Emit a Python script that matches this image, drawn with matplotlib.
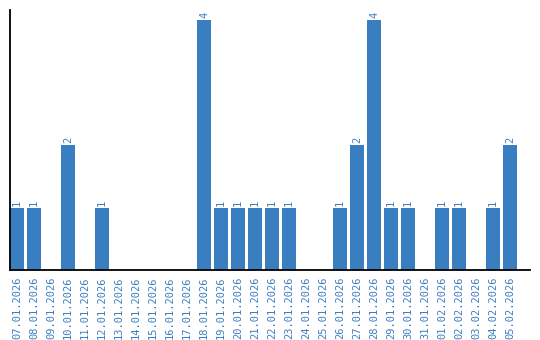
import matplotlib
matplotlib.use("Agg")
import matplotlib.pyplot as plt

dates = ['07.01.2026', '08.01.2026', '09.01.2026', '10.01.2026', '11.01.2026',
         '12.01.2026', '13.01.2026', '14.01.2026', '15.01.2026', '16.01.2026',
         '17.01.2026', '18.01.2026', '19.01.2026', '20.01.2026', '21.01.2026',
         '22.01.2026', '23.01.2026', '24.01.2026', '25.01.2026', '26.01.2026',
         '27.01.2026', '28.01.2026', '29.01.2026', '30.01.2026', '31.01.2026',
         '01.02.2026', '02.02.2026', '03.02.2026', '04.02.2026', '05.02.2026']
counts = [1, 1, 0, 2, 0, 1, 0, 0, 0, 0, 0, 4, 1, 1, 1, 1, 1, 0, 0, 1,
          2, 4, 1, 1, 0, 1, 1, 0, 1, 2]

blue = '#3a7ec2'

fig = plt.figure(figsize=(5.4, 3.4), dpi=100)
ax = fig.add_axes([10 / 540, 70 / 340, 520 / 540, 260 / 340])

x = list(range(len(dates)))
ax.bar(x, counts, width=0.82, color=blue)

# value labels above non-empty bars
for xi, c in zip(x, counts):
    if c > 0:
        ax.text(xi, c + 0.03, str(c), rotation=90, ha='center', va='bottom',
                color=blue, fontsize=7.5, family='DejaVu Sans Mono')

ax.set_xlim(-0.41, 30.18)
ax.set_ylim(0, 4.16)
ax.set_xticks(x)
ax.set_xticklabels(dates, rotation=90, color=blue, fontsize=7.5,
                   family='DejaVu Sans Mono')
ax.tick_params(axis='x', length=0, pad=5)
ax.set_yticks([])
for s in ['top', 'right']:
    ax.spines[s].set_visible(False)
for s in ['left', 'bottom']:
    ax.spines[s].set_linewidth(1.3)
    ax.spines[s].set_color('black')

fig.savefig('out.png', dpi=100)
